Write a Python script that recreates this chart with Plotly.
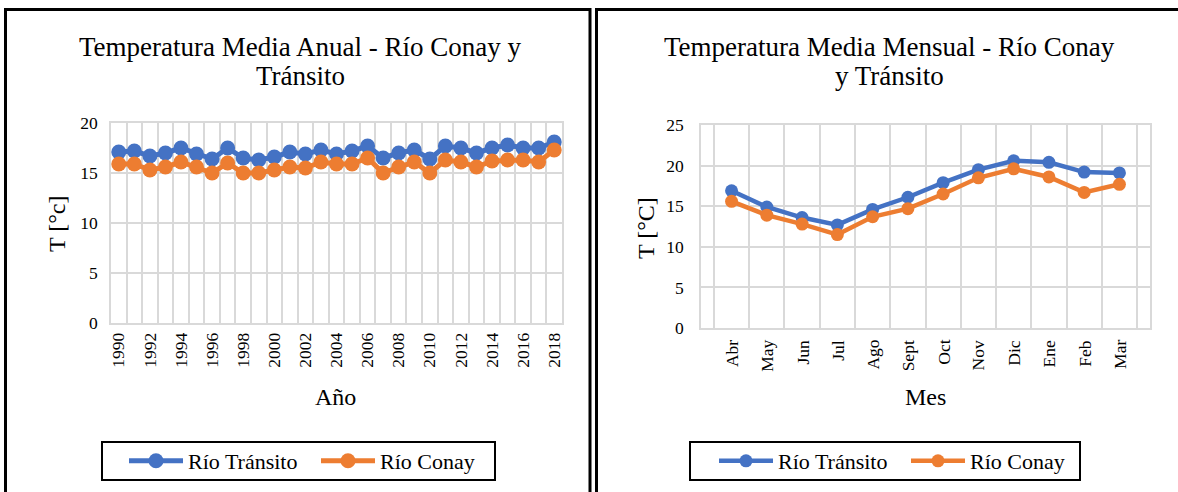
import plotly.graph_objects as go

# Annual mean temperature, 1990-2018
years = list(range(1990, 2019))
anual_transito = [17.1, 17.2, 16.7, 17.0, 17.5, 16.9, 16.4, 17.5, 16.5, 16.3,
                  16.6, 17.1, 16.9, 17.3, 16.9, 17.2, 17.7, 16.5, 17.0, 17.3,
                  16.4, 17.7, 17.5, 17.0, 17.5, 17.8, 17.5, 17.5, 18.1]
anual_conay = [15.9, 15.9, 15.3, 15.6, 16.1, 15.6, 15.0, 16.0, 15.0, 15.0,
               15.3, 15.6, 15.5, 16.1, 15.9, 15.9, 16.5, 15.0, 15.6, 16.1,
               15.0, 16.3, 16.1, 15.6, 16.2, 16.3, 16.3, 16.1, 17.3]

# Monthly mean temperature (hydrological year, April to March)
meses = ["Abr", "May", "Jun", "Jul", "Ago", "Sept", "Oct", "Nov", "Dic", "Ene", "Feb", "Mar"]
mensual_transito = [16.9, 14.9, 13.6, 12.7, 14.6, 16.1, 17.9, 19.5, 20.6, 20.4, 19.2, 19.1]
mensual_conay = [15.6, 13.9, 12.8, 11.5, 13.7, 14.7, 16.5, 18.5, 19.6, 18.6, 16.7, 17.7]

W, H = 1178, 492
BLUE = "#4472C4"
ORANGE = "#ED7D31"
GRID = "#D9D9D9"
FONT = "Liberation Serif"


def px(x):
    return x / W


def py(y):
    return 1 - y / H


fig = go.Figure()

fig.add_trace(go.Scatter(x=years, y=anual_transito, name="Río Tránsito", mode="lines+markers",
                         line=dict(color=BLUE, width=5), marker=dict(size=15, color=BLUE),
                         xaxis="x", yaxis="y", legend="legend"))
fig.add_trace(go.Scatter(x=years, y=anual_conay, name="Río Conay", mode="lines+markers",
                         line=dict(color=ORANGE, width=5), marker=dict(size=15, color=ORANGE),
                         xaxis="x", yaxis="y", legend="legend"))
fig.add_trace(go.Scatter(x=meses, y=mensual_transito, name="Río Tránsito", mode="lines+markers",
                         line=dict(color=BLUE, width=4.5), marker=dict(size=13, color=BLUE),
                         xaxis="x2", yaxis="y2", legend="legend2"))
fig.add_trace(go.Scatter(x=meses, y=mensual_conay, name="Río Conay", mode="lines+markers",
                         line=dict(color=ORANGE, width=4.5), marker=dict(size=13, color=ORANGE),
                         xaxis="x2", yaxis="y2", legend="legend2"))

tickfont = dict(family=FONT, size=17.5, color="#000000")
legend_common = dict(orientation="h", xanchor="left", yanchor="middle",
                     bgcolor="rgba(0,0,0,0)", borderwidth=0,
                     font=dict(family=FONT, size=22, color="black"),
                     itemwidth=54, entrywidth=123, entrywidthmode="pixels")

fig.update_layout(
    width=W, height=H,
    margin=dict(l=0, r=0, t=0, b=0, autoexpand=False),
    paper_bgcolor="white", plot_bgcolor="white",
    font=dict(family=FONT, color="black"),
    xaxis=dict(domain=[px(111), px(562)], range=[1989.5, 2018.5],
               tickmode="linear", tick0=1990, dtick=2, tickangle=-90,
               showgrid=False, tickfont=tickfont, ticks="", ticklabelstandoff=1,
               minor=dict(tickmode="linear", tick0=1989.5, dtick=1, showgrid=True,
                          gridcolor=GRID, gridwidth=1.5, ticks=""),
               showline=True, linecolor=GRID, linewidth=1.5, mirror=True, zeroline=False),
    yaxis=dict(domain=[py(323), py(123)], range=[0, 20], dtick=5,
               showgrid=True, gridcolor=GRID, gridwidth=1.5, tickfont=tickfont,
               ticks="", ticklabelstandoff=8, zeroline=False,
               showline=True, linecolor=GRID, linewidth=1.5, mirror=True),
    xaxis2=dict(domain=[px(701), px(1150)], type="category", tickson="boundaries",
                showticklabels=False, showgrid=True, gridcolor=GRID, gridwidth=1.5,
                ticks="", showline=True, linecolor=GRID, linewidth=1.5, mirror=True,
                anchor="y2"),
    yaxis2=dict(domain=[py(328), py(125)], range=[0, 25], dtick=5,
                showgrid=True, gridcolor=GRID, gridwidth=1.5, tickfont=tickfont,
                ticks="", ticklabelstandoff=12, zeroline=False, anchor="x2",
                showline=True, linecolor=GRID, linewidth=1.5, mirror=True),
    legend=dict(x=px(124), y=py(461), **legend_common),
    legend2=dict(x=px(714), y=py(461), **legend_common),
    showlegend=True,
)

# Month labels, rotated and hung from the bottom of the plot area
for mes in meses:
    fig.add_annotation(x=mes, xref="x2", y=py(338), yref="paper", text=mes,
                       textangle=-90, xanchor="center", yanchor="top",
                       showarrow=False, font=tickfont)

# Panel frames and legend boxes
frame = dict(type="rect", xref="paper", yref="paper", line=dict(color="black", width=3),
             fillcolor="rgba(0,0,0,0)", layer="above")
fig.add_shape(x0=px(5.5), x1=px(590), y0=py(500), y1=py(9.5), **frame)
fig.add_shape(x0=px(596.5), x1=px(1190), y0=py(500), y1=py(9.5), **frame)
box = dict(type="rect", xref="paper", yref="paper", line=dict(color="black", width=2),
           fillcolor="rgba(0,0,0,0)", layer="above")
fig.add_shape(x0=px(102), x1=px(495), y0=py(480), y1=py(442), **box)
fig.add_shape(x0=px(690), x1=px(1080), y0=py(480), y1=py(442), **box)

title_font = dict(family=FONT, size=27, color="black")
label_font = dict(family=FONT, size=24, color="black")
ann = dict(xref="paper", yref="paper", showarrow=False, xanchor="center", yanchor="middle")
fig.add_annotation(x=px(300), y=py(47), text="Temperatura Media Anual - Río Conay y",
                   font=title_font, **ann)
fig.add_annotation(x=px(300), y=py(76), text="Tránsito", font=title_font, **ann)
fig.add_annotation(x=px(889), y=py(47), text="Temperatura Media Mensual - Río Conay",
                   font=title_font, **ann)
fig.add_annotation(x=px(889), y=py(76), text="y Tránsito", font=title_font, **ann)
fig.add_annotation(x=px(57), y=py(224), text="T [°c]", textangle=-90, font=label_font, **ann)
fig.add_annotation(x=px(646), y=py(228), text="T [°C]", textangle=-90, font=label_font, **ann)
fig.add_annotation(x=px(335), y=py(397), text="Año", font=label_font, **ann)
fig.add_annotation(x=px(925), y=py(397), text="Mes", font=label_font, **ann)

fig.write_html("out.html")
